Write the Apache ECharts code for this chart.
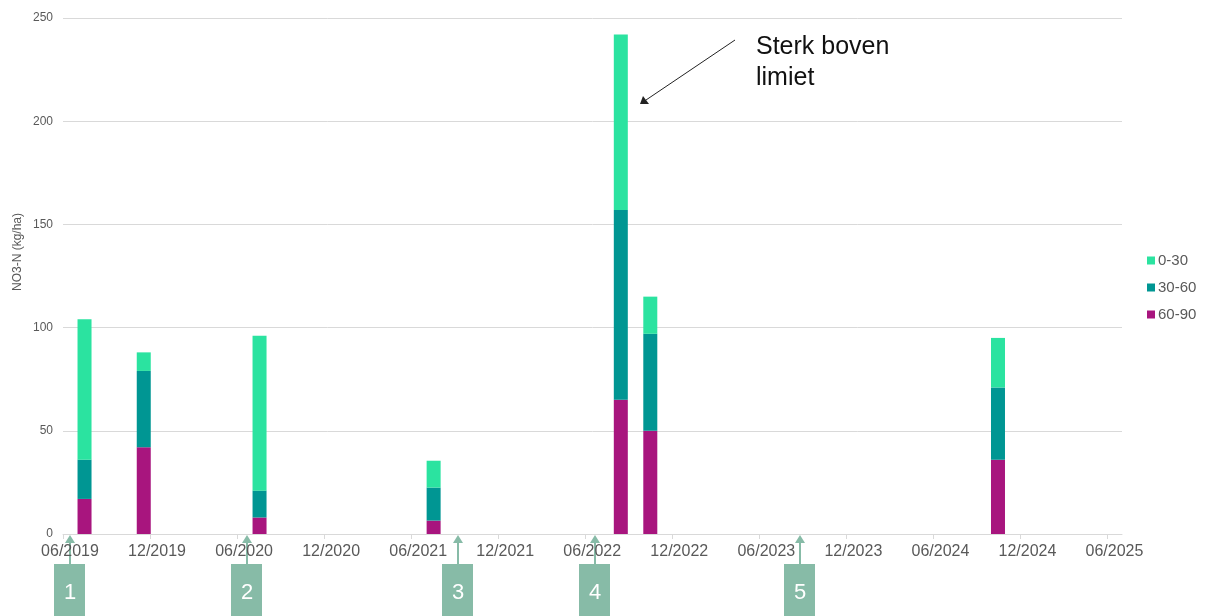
<!DOCTYPE html>
<html>
<head>
<meta charset="utf-8">
<script src="https://cdn.jsdelivr.net/npm/echarts@6/dist/echarts.min.js"></script>
<style>
  html, body { margin: 0; padding: 0; background: #fff; }
  #chart { width: 1208px; height: 616px; }
</style>
</head>
<body>
<div id="chart"></div>
<script>
// sampling dates (bars)
const sampleDates = ['2019-07-16', '2019-11-18', '2020-07-18', '2021-07-18', '2022-08-15', '2022-10-16', '2024-10-15'];
// NO3-N per layer, kg/ha
const layer6090 = [17, 42, 8, 6.5, 65, 50, 36];
const layer3060 = [19, 37, 13, 16, 92, 47, 35];
const layer030 = [68, 9, 75, 13, 85, 18, 24];
const seriesNames = ['0-30', '30-60', '60-90'];
const colors = { '0-30': '#2BE3A0', '30-60': '#009693', '60-90': '#A8157E' };
// numbered events under the axis
const eventDates = ['2019-06-15', '2020-06-21', '2021-09-08', '2022-06-21', '2023-08-26'];
const eventLabels = ['1', '2', '3', '4', '5'];

// x axis runs in months counted from 06/2019
function toMonths(s) {
  const [y, m, d] = s.split('-').map(Number);
  const dim = new Date(y, m, 0).getDate();
  return (y - 2019) * 12 + (m - 6) + (d - 1) / dim;
}
function monthLabel(v) {
  const m = ((v + 5) % 12) + 1;
  const y = 2019 + Math.floor((v + 5) / 12);
  return (m < 10 ? '0' + m : m) + '/' + y;
}

const xs = sampleDates.map(toMonths);
// value first so the stack runs on the y values
const pairs = arr => arr.map((v, i) => [v, xs[i]]);

const chart = echarts.init(document.getElementById('chart'));
const font = 'Liberation Sans, Arial, sans-serif';

function barSeries(name, values) {
  return {
    name: name,
    type: 'bar',
    stack: 'total',
    barWidth: 14,
    encode: { x: 1, y: 0 },
    itemStyle: { color: colors[name] },
    data: pairs(values)
  };
}

chart.setOption({
  animation: false,
  textStyle: { fontFamily: font },
  grid: { left: 63, right: 86, top: 18, bottom: 82 },
  legend: {
    orient: 'vertical',
    left: 1142,
    top: 248,
    itemWidth: 8,
    itemHeight: 8,
    itemGap: 12,
    icon: 'rect',
    data: seriesNames,
    textStyle: { color: '#595959', fontSize: 15, padding: [0, 0, 0, -2] }
  },
  xAxis: {
    type: 'value',
    min: 0,
    max: 73,
    interval: 6,
    splitLine: { show: false },
    axisLine: { lineStyle: { color: '#d9d9d9' } },
    axisTick: { show: true, length: 5, lineStyle: { color: '#d9d9d9' } },
    axisLabel: {
      color: '#595959',
      fontSize: 16,
      margin: 10,
      padding: [0, 0, 0, 14],
      showMaxLabel: false,
      formatter: monthLabel
    }
  },
  yAxis: {
    type: 'value',
    min: 0,
    max: 250,
    interval: 50,
    axisLine: { show: false },
    axisTick: { show: false },
    splitLine: { lineStyle: { color: '#d9d9d9' } },
    axisLabel: { color: '#595959', fontSize: 12, margin: 10 }
  },
  series: [
    barSeries('60-90', layer6090),
    barSeries('30-60', layer3060),
    barSeries('0-30', layer030)
  ]
});

// overlays: y title, annotation, event markers
const boxColor = '#87BBA7';
const graphics = [
  {
    type: 'text',
    x: 18, y: 252,
    rotation: Math.PI / 2,
    style: {
      text: 'NO3-N (kg/ha)', fill: '#595959', fontSize: 12, fontFamily: font,
      align: 'center', verticalAlign: 'middle'
    }
  },
  {
    type: 'text',
    x: 756, y: 32,
    style: {
      text: 'Sterk boven\nlimiet', fill: '#111', fontSize: 25, fontFamily: font,
      lineHeight: 31
    }
  },
  {
    type: 'line',
    shape: { x1: 735, y1: 40, x2: 646, y2: 100 },
    style: { stroke: '#222', lineWidth: 1 }
  },
  {
    type: 'polygon',
    shape: { points: [[640, 104], [643, 96], [649, 104]] },
    style: { fill: '#222' }
  }
];

eventDates.forEach((d, i) => {
  const px = chart.convertToPixel({ gridIndex: 0 }, [toMonths(d), 0]);
  const cx = Math.round(px[0]);
  const top = 564;
  graphics.push(
    { type: 'rect', shape: { x: cx - 16, y: top, width: 31, height: 60 }, style: { fill: boxColor } },
    { type: 'line', shape: { x1: cx, y1: top, x2: cx, y2: px[1] + 8 }, style: { stroke: boxColor, lineWidth: 2 } },
    { type: 'polygon', shape: { points: [[cx, px[1] + 1], [cx - 5, px[1] + 9], [cx + 5, px[1] + 9]] }, style: { fill: boxColor } },
    {
      type: 'text', x: cx, y: 593,
      style: { text: eventLabels[i], fill: '#fff', fontSize: 22, fontFamily: font, align: 'center', verticalAlign: 'middle' }
    }
  );
});

chart.setOption({ graphic: graphics });
</script>
</body>
</html>
